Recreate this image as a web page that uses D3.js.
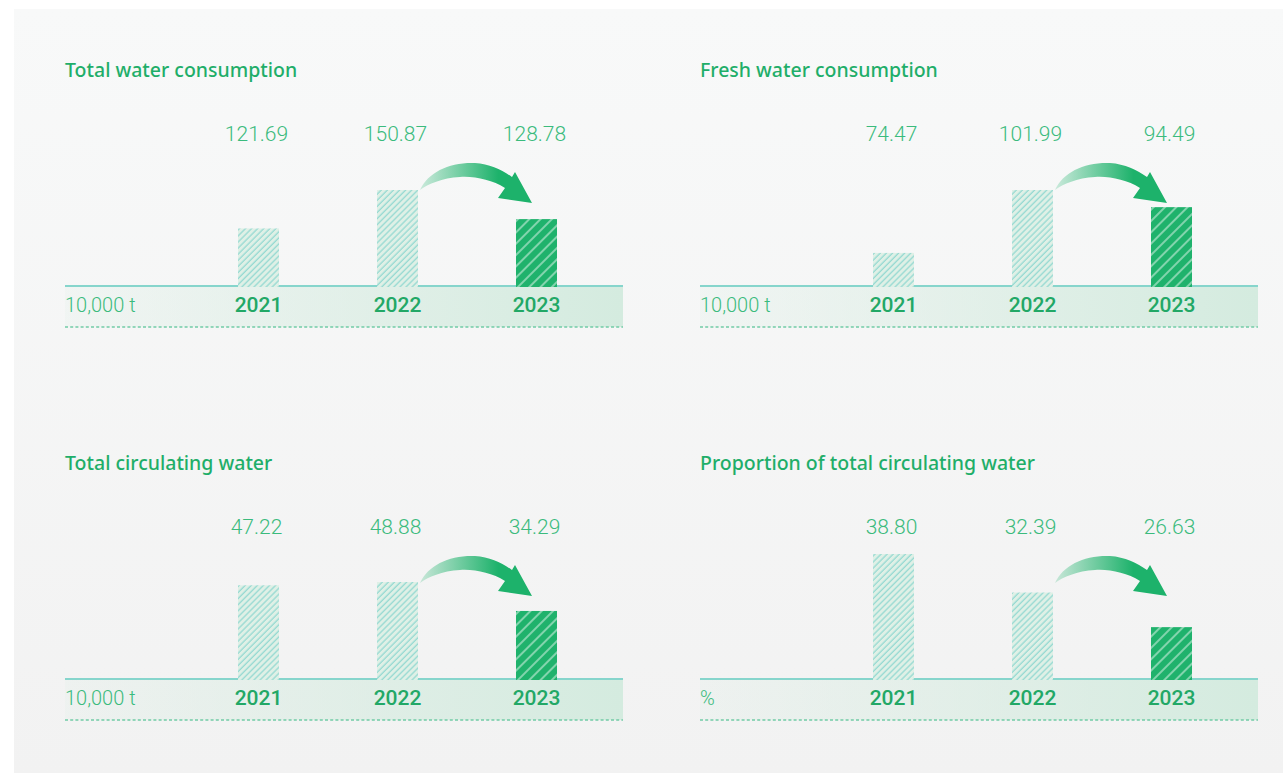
<!DOCTYPE html>
<html>
<head>
<meta charset="utf-8">
<script src="https://cdn.jsdelivr.net/npm/d3@7"></script>
<style>
  html, body { margin: 0; padding: 0; background: #ffffff; }
  svg { display: block; }
</style>
</head>
<body>
<div id="chart"></div>
<script>
// Water indicators, 2021-2023 (four small bar panels)

// Pt. 0 - DATA

const years = ["2021", "2022", "2023"];
const titles = ["Total water consumption", "Fresh water consumption",
                "Total circulating water", "Proportion of total circulating water"];
const units = ["10,000 t", "10,000 t", "10,000 t", "%"];

const totalWater = [121.69, 150.87, 128.78];
const freshWater = [74.47, 101.99, 94.49];
const circulatingWater = [47.22, 48.88, 34.29];
const circulatingShare = [38.80, 32.39, 26.63];

const seriesList = [totalWater, freshWater, circulatingWater, circulatingShare];

// scale floors and tallest bar per panel (design choice of the original)
const scaleFloor = [78, 60, 0, 18];
const tallest = [96, 96, 97, 125];

// Pt. 1 - SETUP

const width = 1283,
      height = 774;

const green = "#1fae69",
      lightGreen = "#3bbb7d",
      font = "Roboto, 'Noto Sans', sans-serif",
      titleFont = "'Noto Sans', 'Open Sans', sans-serif";

let svg = d3.select("#chart")
    .append("svg")
    .attr("width", width)
    .attr("height", height);

let defs = svg.append("defs");

// background panel gradient
let bg = defs.append("linearGradient")
    .attr("id", "bg").attr("x1", 0).attr("y1", 0).attr("x2", 0).attr("y2", 1);
bg.append("stop").attr("offset", 0).attr("stop-color", "#f8f9f9");
bg.append("stop").attr("offset", 1).attr("stop-color", "#f2f2f2");

// axis band gradient
let band = defs.append("linearGradient")
    .attr("id", "band").attr("x1", 0).attr("y1", 0).attr("x2", 1).attr("y2", 0);
band.append("stop").attr("offset", 0).attr("stop-color", "#d4ebdf").attr("stop-opacity", 0.15);
band.append("stop").attr("offset", 1).attr("stop-color", "#d4ebdf").attr("stop-opacity", 1);

// arrow gradient
let arrowGrad = defs.append("linearGradient")
    .attr("id", "arrowGrad").attr("x1", 0).attr("y1", 0).attr("x2", 1).attr("y2", 0);
arrowGrad.append("stop").attr("offset", 0).attr("stop-color", "#1db26b").attr("stop-opacity", 0.2);
arrowGrad.append("stop").attr("offset", 0.7).attr("stop-color", "#1db26b").attr("stop-opacity", 1);

// hatch patterns: light for past years, dark for current year
let hatchLight = defs.append("pattern")
    .attr("id", "hatchLight")
    .attr("patternUnits", "userSpaceOnUse")
    .attr("width", 4.3).attr("height", 10)
    .attr("patternTransform", "rotate(45)");
hatchLight.append("rect").attr("width", 4.3).attr("height", 10).attr("fill", "#dff0e6");
hatchLight.append("line")
    .attr("x1", 1).attr("y1", 0).attr("x2", 1).attr("y2", 10)
    .attr("stroke", "#7fd3cc").attr("stroke-width", 1);

let hatchDark = defs.append("pattern")
    .attr("id", "hatchDark")
    .attr("patternUnits", "userSpaceOnUse")
    .attr("width", 8).attr("height", 10)
    .attr("patternTransform", "rotate(45)");
hatchDark.append("rect").attr("width", 8).attr("height", 10).attr("fill", "#1fb26c");
hatchDark.append("line")
    .attr("x1", 1).attr("y1", 0).attr("x2", 1).attr("y2", 10)
    .attr("stroke", "#e6f7ee").attr("stroke-width", 1);

svg.append("rect")
    .attr("x", 14).attr("y", 9)
    .attr("width", width - 14).attr("height", height - 10)
    .attr("fill", "url(#bg)");

// panel anchors: left edge and baseline
const panelX = [65, 700, 65, 700],
      panelBase = [286, 286, 679, 679],
      panelW = 558;

// Pt. 2 - DRAW EACH PANEL

seriesList.forEach((values, i) => {

    let g = svg.append("g")
        .attr("transform", `translate(${panelX[i]}, ${panelBase[i]})`);

    let x = d3.scaleBand()
        .domain(years)
        .range([124, 541])
        .paddingInner(0.705)
        .paddingOuter(0.3525);

    let y = d3.scaleLinear()
        .domain([scaleFloor[i], d3.max(values)])
        .range([0, -tallest[i]]);

    // title
    g.append("text")
        .text(titles[i])
        .attr("x", 0)
        .attr("y", -216)
        .attr("dy", "0.35em")
        .style("font-family", titleFont)
        .style("font-size", "19.5px")
        .style("font-weight", 500)
        .style("fill", green);

    // axis band
    g.append("rect")
        .attr("x", 0).attr("y", 0)
        .attr("width", panelW).attr("height", 41)
        .attr("fill", "url(#band)");

    g.append("line")
        .attr("x1", 0).attr("x2", panelW)
        .attr("y1", 0).attr("y2", 0)
        .attr("stroke", "#86d5cc")
        .attr("stroke-width", 2);

    g.append("line")
        .attr("x1", 0).attr("x2", panelW)
        .attr("y1", 41).attr("y2", 41)
        .attr("stroke", "#72cca6")
        .attr("stroke-width", 1.5)
        .attr("stroke-dasharray", "3,2.2");

    // unit label
    g.append("text")
        .text(units[i])
        .attr("x", 0)
        .attr("y", 19)
        .attr("dy", "0.35em")
        .style("font-family", font)
        .style("font-size", "20px")
        .style("font-weight", 300)
        .style("fill", lightGreen);

    // bars
    let bar = g.selectAll(".bar")
        .data(years.map((yr, j) => ({ year: yr, value: values[j], last: j === years.length - 1 })))
        .join("g")
        .attr("class", "bar");

    bar.append("rect")
        .attr("x", d => x(d.year))
        .attr("width", x.bandwidth())
        .attr("y", d => y(d.value))
        .attr("height", d => y(scaleFloor[i]) - y(d.value) + 1)
        .attr("fill", d => d.last ? "url(#hatchDark)" : "url(#hatchLight)");

    // value labels
    bar.append("text")
        .text(d => d3.format(".2f")(d.value))
        .attr("x", d => x(d.year) + x.bandwidth() / 2 - 2)
        .attr("y", -152)
        .attr("dy", "0.35em")
        .attr("text-anchor", "middle")
        .style("font-family", font)
        .style("font-size", "21px")
        .style("font-weight", 300)
        .style("fill", lightGreen);

    // year labels
    bar.append("text")
        .text(d => d.year)
        .attr("x", d => x(d.year) + x.bandwidth() / 2)
        .attr("y", 19)
        .attr("dy", "0.35em")
        .attr("text-anchor", "middle")
        .style("font-family", font)
        .style("font-size", "21px")
        .style("font-weight", 500)
        .style("fill", "#22a866");

    // curved arrow from 2022 towards 2023
    let sx = x(years[1]) + x.bandwidth() + 2,
        sy = -96;
    g.append("path")
        .attr("transform", `translate(${sx}, ${sy})`)
        .attr("d", "M0,0 C8,-18 30,-28 55,-27 C70,-26 82,-20 92,-13 L95,-18 L112,13 L78,8 L85,-2 C72,-10 55,-14 40,-13 C22,-12 8,-6 0,0 Z")
        .attr("fill", "url(#arrowGrad)");
});
</script>
</body>
</html>
